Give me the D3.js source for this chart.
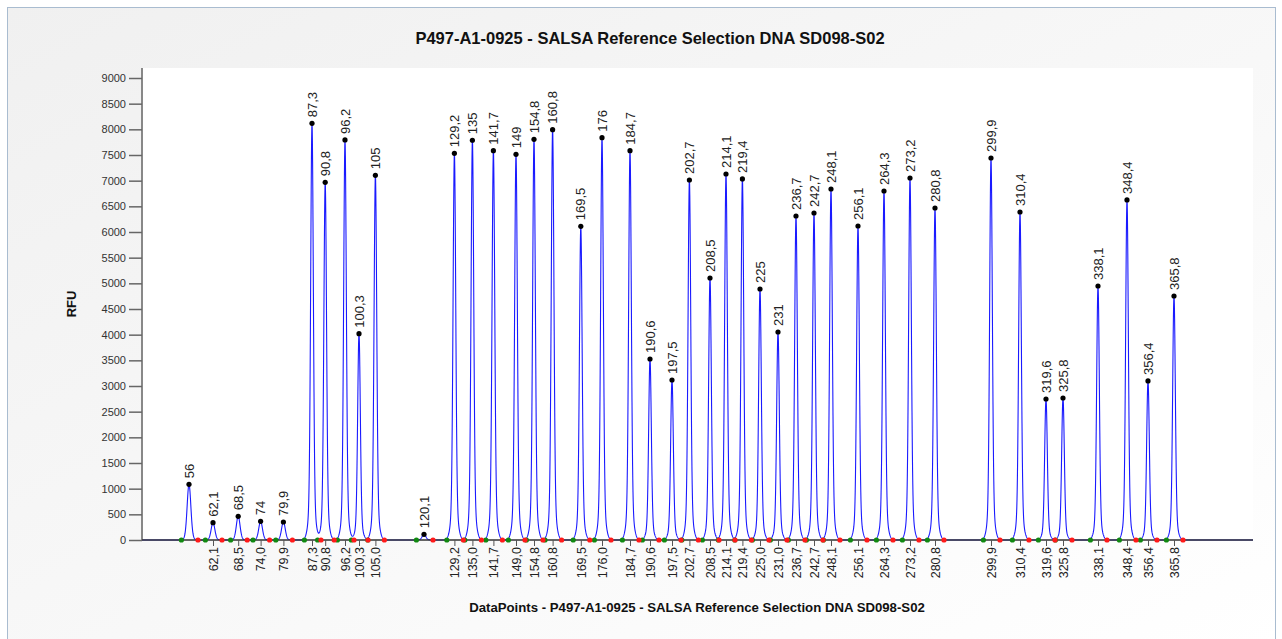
<!DOCTYPE html>
<html>
<head>
<meta charset="utf-8">
<script src="https://cdn.jsdelivr.net/npm/d3@7"></script>
<style>
body { margin: 0; background: #fff; font-family: "Liberation Sans", Arial, sans-serif; }
</style>
</head>
<body>
<script>
// peak positions in data points, heights in RFU, and their size labels
const peakPos = [235, 355, 481, 593, 707, 850, 916, 1015, 1085, 1167,
	1410, 1562, 1652, 1757, 1870, 1960, 2053, 2194, 2300, 2440,
	2540, 2650, 2737, 2840, 2920, 3002, 3090, 3180, 3270, 3360,
	3445, 3580, 3710, 3840, 3965, 4245, 4390, 4520, 4605, 4780,
	4925, 5030, 5160];
const peakRFU = [1085, 337, 462, 364, 351, 8117, 6968, 7793, 4019, 7105,
	110, 7533, 7787, 7585, 7514, 7806, 7994, 6111, 7838, 7585,
	3526, 3117, 7013, 5104, 7130, 7033, 4890, 4052, 6312, 6370,
	6838, 6117, 6799, 7052, 6468, 7442, 6390, 2747, 2766, 4948,
	6624, 3098, 4753];
const peakLabels = ["56", "62,1", "68,5", "74", "79,9", "87,3", "90,8", "96,2", "100,3", "105",
	"120,1", "129,2", "135", "141,7", "149", "154,8", "160,8", "169,5", "176", "184,7",
	"190,6", "197,5", "202,7", "208,5", "214,1", "219,4", "225", "231", "236,7", "242,7",
	"248,1", "256,1", "264,3", "273,2", "280,8", "299,9", "310,4", "319,6", "325,8", "338,1",
	"348,4", "356,4", "365,8"];
// x axis ticks (data points) and their labels
const tickPos = [355, 481, 593, 707, 850, 916, 1015, 1085, 1167,
	1562, 1652, 1757, 1870, 1960, 2053, 2194, 2300, 2440,
	2540, 2650, 2737, 2840, 2920, 3002, 3090, 3180, 3270, 3360,
	3445, 3580, 3710, 3840, 3965, 4245, 4390, 4520, 4605, 4780,
	4925, 5030, 5160];
const tickLabels = ["62,1", "68,5", "74,0", "79,9", "87,3", "90,8", "96,2", "100,3", "105,0",
	"129,2", "135,0", "141,7", "149,0", "154,8", "160,8", "169,5", "176,0", "184,7",
	"190,6", "197,5", "202,7", "208,5", "214,1", "219,4", "225,0", "231,0", "236,7", "242,7",
	"248,1", "256,1", "264,3", "273,2", "280,8", "299,9", "310,4", "319,6", "325,8", "338,1",
	"348,4", "356,4", "365,8"];
const yTicks = d3.range(0, 9001, 500);

const W = 1282, H = 639;
const plotL = 142, plotR = 1253, plotT = 68, plotB = 540;
const title = "P497-A1-0925 - SALSA Reference Selection DNA SD098-S02";

const svg = d3.select("body").append("svg")
	.attr("width", W)
	.attr("height", H);

const grad = svg.append("defs").append("linearGradient")
	.attr("id", "bg").attr("x1", 0).attr("y1", 0).attr("x2", 1).attr("y2", 1);
grad.append("stop").attr("offset", "0%").attr("stop-color", "#f0f0f0");
grad.append("stop").attr("offset", "100%").attr("stop-color", "#ffffff");

svg.append("rect")
	.attr("x", 7.5).attr("y", 7.5)
	.attr("width", 1268).attr("height", 640)
	.attr("fill", "url(#bg)")
	.attr("stroke", "#a9bcd0");

svg.append("rect")
	.attr("x", plotL).attr("y", plotT)
	.attr("width", plotR - plotL).attr("height", plotB - plotT)
	.attr("fill", "#fff");

const x = d3.scaleLinear().domain([0, 5555]).range([plotL, plotR]);
const y = d3.scaleLinear().domain([0, 9000]).range([plotB, plotB - 462]);

// trace: each peak drawn as a narrow bell with a small wider foot
const trace = d3.range(0, 5556, 1).map(p => {
	let v = 0;
	peakPos.forEach((c, i) => {
		const d = p - c;
		if (Math.abs(d) < 80) {
			const s = peakRFU[i] < 1500 ? 9 : 6.5;
			v += peakRFU[i] * (0.9 * Math.exp(-d * d / (2 * s * s)) + 0.1 * Math.exp(-d * d / (2 * 15 * 15)));
		}
	});
	return [p, v];
});

svg.append("path")
	.datum(trace)
	.attr("fill", "none")
	.attr("stroke", "#1a1aff")
	.attr("stroke-width", 1.1)
	.attr("d", d3.line().x(d => x(d[0])).y(d => y(d[1])));

// y axis
const yAxis = svg.append("g")
	.attr("transform", `translate(${plotL},0)`)
	.call(d3.axisLeft(y).tickValues(yTicks).tickSize(13).tickPadding(3).tickFormat(d3.format("d")));
yAxis.select(".domain").attr("stroke", "#888").attr("stroke-width", 2).attr("d", `M0,${plotT}V${plotB}`);
yAxis.selectAll(".tick line").attr("stroke", "#666").attr("stroke-width", 1.5);
yAxis.selectAll(".tick text")
	.attr("fill", "#333")
	.style("font-family", "'Liberation Sans', Arial, sans-serif")
	.style("font-size", "11px");

// x axis
const xAxis = svg.append("g")
	.attr("transform", `translate(0,${plotB})`)
	.call(d3.axisBottom(x).tickValues(tickPos).tickSize(6).tickFormat((d, i) => tickLabels[i]));
xAxis.select(".domain").attr("stroke", "#333").attr("stroke-width", 1.5).attr("d", `M${plotL},0H${plotR}`);
xAxis.selectAll(".tick line").attr("stroke", "#555");
xAxis.selectAll(".tick text")
	.attr("transform", "rotate(-90)")
	.attr("text-anchor", "end")
	.attr("x", -7)
	.attr("y", 0)
	.attr("dy", "0.35em")
	.attr("fill", "#222")
	.style("font-family", "'Liberation Sans', Arial, sans-serif")
	.style("font-size", "12.5px");

// peak start / end markers
svg.selectAll("circle.start")
	.data(peakPos)
	.enter()
	.append("circle")
	.attr("class", "start")
	.attr("cx", d => x(d - 38))
	.attr("cy", y(0))
	.attr("r", 2.6)
	.attr("fill", "#118811");

svg.selectAll("circle.end")
	.data(peakPos)
	.enter()
	.append("circle")
	.attr("class", "end")
	.attr("cx", d => x(d + 45))
	.attr("cy", y(0))
	.attr("r", 2.6)
	.attr("fill", "#ff1a1a");

// peak tops
svg.selectAll("circle.top")
	.data(peakPos)
	.enter()
	.append("circle")
	.attr("class", "top")
	.attr("cx", d => x(d))
	.attr("cy", (d, i) => y(peakRFU[i]))
	.attr("r", 2.6)
	.attr("fill", "#000");

svg.selectAll("text.peak")
	.data(peakPos)
	.enter()
	.append("text")
	.attr("class", "peak")
	.attr("transform", (d, i) => `translate(${x(d)},${y(peakRFU[i]) - 6}) rotate(-90)`)
	.attr("dy", "0.35em")
	.attr("fill", "#222")
	.style("font-size", "13px")
	.text((d, i) => peakLabels[i]);

svg.append("text")
	.attr("x", 650).attr("y", 44)
	.attr("text-anchor", "middle")
	.style("font-size", "16.5px")
	.style("font-weight", "bold")
	.attr("fill", "#111")
	.text(title);

svg.append("text")
	.attr("transform", "translate(76,304) rotate(-90)")
	.attr("text-anchor", "middle")
	.style("font-size", "13px")
	.style("font-weight", "bold")
	.attr("fill", "#111")
	.text("RFU");

svg.append("text")
	.attr("x", 697).attr("y", 612)
	.attr("text-anchor", "middle")
	.style("font-size", "13.2px")
	.style("font-weight", "bold")
	.attr("fill", "#111")
	.text("DataPoints - " + title);
</script>
</body>
</html>
